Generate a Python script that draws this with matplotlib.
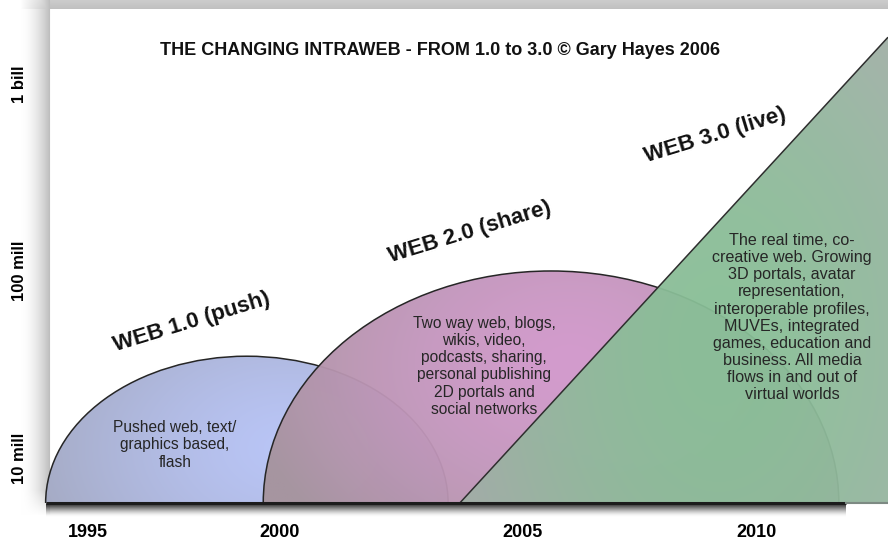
import numpy as np
import matplotlib
matplotlib.use("Agg")
import matplotlib.pyplot as plt
from matplotlib.patches import Ellipse, Polygon
from matplotlib.colors import to_rgb
from matplotlib.transforms import offset_copy

# ---------------- data ----------------
title = "THE CHANGING INTRAWEB - FROM 1.0 to 3.0 \u00a9 Gary Hayes 2006"
era_names = ["WEB 1.0 (push)", "WEB 2.0 (share)", "WEB 3.0 (live)"]
era_desc = [
    "Pushed web, text/\ngraphics based,\nflash",
    "Two way web, blogs,\nwikis, video,\npodcasts, sharing,\npersonal publishing\n2D portals and\nsocial networks",
    "The real time, co-\ncreative web. Growing\n3D portals, avatar\nrepresentation,\ninteroperable profiles,\n"
    "MUVEs, integrated\ngames, education and\nbusiness. All media\nflows in and out of\nvirtual worlds",
]
# Web 1.0 and Web 2.0 domes: start year, end year, peak users
dome_start = [1994.8, 1999.45]
dome_end = [2003.4, 2011.75]
dome_peak = [35e6, 100e6]
# Web 3.0 growth line
web3_years = [2003.65, 2012.8]
web3_users = [5.74e6, 1.78e9]
# axes
year_ticks = [1995, 2000, 2005, 2010]
year_tick_pos = [1995.7, 1999.8, 2005.0, 2010.0]
user_ticks = [1e7, 1e8, 1e9]
user_tick_labels = ["10 mill", "100 mill", "1 bill"]
x_range = [1994.53, 2012.80]
user_range = [5.74e6, 2.52e9]
baseline_end = 2011.9
# label anchors
label_years = [1997.93, 2003.87, 2009.10]
label_users = [10 ** 7.727, 10 ** 8.209, 10 ** 8.727]
desc_years = [1997.56, 2004.17, 2010.75]
desc_users = [10 ** 7.07, 10 ** 7.49, 10 ** 7.75]
desc_sizes = [11.2, 11.2, 11.6]

SANS = ["Liberation Sans", "DejaVu Sans"]
plt.rcParams["font.family"] = SANS

W, H = 888, 542
fig = plt.figure(figsize=(W / 100, H / 100), dpi=100)
fig.patch.set_facecolor("white")

# ---------------- background frame (panel + shadows) ----------------
bg = fig.add_axes([0, 0, 1, 1], zorder=-5)
bg.set_xlim(0, W)
bg.set_ylim(H, 0)
bg.axis("off")
img = np.ones((H, W))
xx = np.arange(W)[None, :]
yy = np.arange(H)[:, None]
# left shadow
d = np.clip((xx - 20) / 30.0, 0, 1) ** 1.8 * 0.27
d = d * (xx < 50)
fade = np.clip((515 - yy) / 25.0, 0, 1)
img = img - d * fade
# top band
band = (yy < 9) * (0.20 + 0.05 * yy / 9.0)
bandx = np.clip((xx - 20) / 30.0, 0, 1)
img = np.minimum(img, 1 - band * bandx)
bg.imshow(np.dstack([img] * 3), extent=(0, W, H, 0), aspect="auto", interpolation="bilinear")

# ---------------- main axes ----------------
ax = fig.add_axes([33 / W, 1 - 503 / H, 855 / W, 494 / H])
ax.set_facecolor("none")
for s in ax.spines.values():
    s.set_visible(False)

ylog = np.log10
y0, y1 = ylog(user_range[0]), ylog(user_range[1])
x0, x1 = x_range
base = y0

xs = np.linspace(x0, x1, 500)
ys = np.linspace(y0, y1, 350)
XX, YY = np.meshgrid(xs, ys)


def radial_fill(clip, cx, cy, rx, ry, inner, outer, alpha, z, power=1.0):
    r = np.clip(np.sqrt(((XX - cx) / rx) ** 2 + ((YY - cy) / ry) ** 2), 0, 1) ** power
    c = (1 - r)[..., None] * np.array(to_rgb(inner)) + r[..., None] * np.array(to_rgb(outer))
    im = ax.imshow(c, extent=(x0, x1, y0, y1), origin="lower", aspect="auto",
                   alpha=alpha, zorder=z, interpolation="bilinear")
    im.set_clip_path(clip)


# Web 1.0 dome
c1 = (dome_start[0] + dome_end[0]) / 2
w1 = dome_end[0] - dome_start[0]
h1 = 2 * (ylog(dome_peak[0]) - base)
clip1 = Ellipse((c1, base), w1, h1, fill=False, edgecolor="none")
ax.add_patch(clip1)
radial_fill(clip1, 2000.0, 7.05, 6.5, 1.1, "#b9c5f6", "#a0a4b7", 1.0, 2, power=1.4)
ax.add_patch(Ellipse((c1, base), w1, h1, fill=False, edgecolor="#262626", lw=1.1, zorder=2.5))

# Web 2.0 dome
c2 = (dome_start[1] + dome_end[1]) / 2
w2 = dome_end[1] - dome_start[1]
h2 = 2 * (ylog(dome_peak[1]) - base)
clip2 = Ellipse((c2, base), w2, h2, fill=False, edgecolor="none")
ax.add_patch(clip2)
radial_fill(clip2, 2006.0, 7.5, 7.0, 1.3, "#d198cb", "#a6939d", 0.96, 3, power=1.5)
ax.add_patch(Ellipse((c2, base), w2, h2, fill=False, edgecolor="#262626", lw=1.1, zorder=3.5))

# Web 3.0 triangle
p_start = (web3_years[0], ylog(web3_users[0]))
p_end = (web3_years[1], ylog(web3_users[1]))
clip3 = Polygon([p_start, p_end, (p_end[0], base)], closed=True, fill=False, edgecolor="none")
ax.add_patch(clip3)
radial_fill(clip3, 2009.2, 7.6, 5.6, 2.1, "#88bf96", "#a0afa6", 0.95, 4, power=1.7)
ax.plot([p_start[0], p_end[0]], [p_start[1], p_end[1]], color="#2e2e2e", lw=1.1, zorder=4.5,
        solid_capstyle="butt")

# baseline with soft shadow
bx = [dome_start[0], baseline_end]
for k in range(1, 14):
    tr = offset_copy(ax.transData, fig=fig, x=0, y=-k, units="dots")
    a = 0.75 * (1 - k / 14.0) ** 1.8
    ax.plot(bx, [base, base], color="black", lw=1.2, alpha=a, transform=tr, clip_on=False,
            zorder=1, solid_capstyle="butt")
ax.plot(bx, [base, base], color="#1c1c1c", lw=2.2, zorder=5, clip_on=False, solid_capstyle="butt")
ax.plot([baseline_end, x1], [base, base], color="#7d8a83", lw=1.5, zorder=5, clip_on=False)

# era labels
for name, lx, lu in zip(era_names, label_years, label_users):
    ax.text(lx, ylog(lu), name, rotation=17, rotation_mode="anchor", ha="center", va="center",
            fontsize=16, fontweight="bold", color="#111111", zorder=6)
for desc, dx, du, fs in zip(era_desc, desc_years, desc_users, desc_sizes):
    ax.text(dx, ylog(du), desc, ha="center", va="center", multialignment="center",
            fontsize=fs, color="#262626", linespacing=1.18, zorder=6)

ax.set_xlim(x0, x1)
ax.set_ylim(y0, y1)
ax.set_xticks(year_tick_pos, [str(y) for y in year_ticks])
ax.set_yticks(ylog(user_ticks), user_tick_labels)
ax.tick_params(axis="both", length=0)
ax.tick_params(axis="x", pad=15, labelsize=13)
ax.tick_params(axis="y", pad=4, labelsize=12)
for t in ax.get_xticklabels():
    t.set_fontweight("bold")
for t in ax.get_yticklabels():
    t.set_fontweight("bold")
    t.set_rotation(90)
    t.set_va("center")

fig.text(440 / W, 1 - 51 / H, title, ha="center", va="center", fontsize=13, fontweight="bold",
         family=["Liberation Sans Narrow", "Liberation Sans", "DejaVu Sans"], color="#111111")

fig.savefig("out.png", dpi=100, facecolor="white")
